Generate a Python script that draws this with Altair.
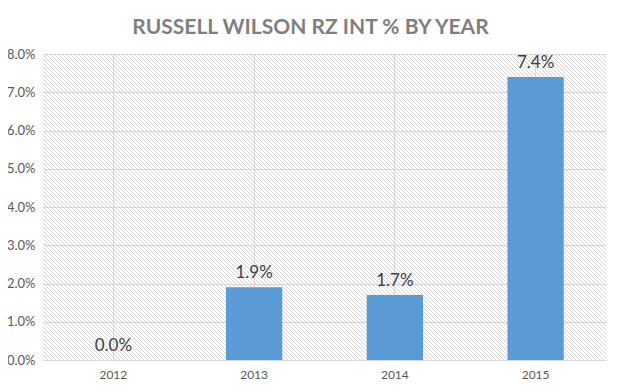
import altair as alt
import pandas as pd

years = ["2012", "2013", "2014", "2015"]
int_pct = [0.000, 0.019, 0.017, 0.074]
y_ticks = [0.0, 0.01, 0.02, 0.03, 0.04, 0.05, 0.06, 0.07, 0.08]
title_text = "RUSSELL WILSON RZ INT % BY YEAR"

df = pd.DataFrame({"year": years, "pct": int_pct})

W, H = 563, 306
# diagonal hatch pattern for the plot background (style only)
L = W + H
period = 4.0
stops = []
k = 0
while (k + 1) * period < L:
    s = k * period
    stops += [
        {"offset": s / L, "color": "rgba(255,255,255,0)"},
        {"offset": (s + 1.0) / L, "color": "rgba(200,200,200,0.75)"},
        {"offset": (s + 2.0) / L, "color": "rgba(255,255,255,0)"},
    ]
    k += 1
den = W * W + H * H
hatch_fill = {
    "gradient": "linear",
    "x1": 0, "y1": 1,
    "x2": W * L / den, "y2": 1 - H * L / den,
    "stops": stops,
}

hatch = alt.Chart(pd.DataFrame({"k": [0]})).mark_rect(fill=hatch_fill).encode(
    x=alt.value(0), x2=alt.value("width"), y=alt.value(0), y2=alt.value("height")
)

base = alt.Chart(df)
x_enc = alt.X(
    "year:N",
    title=None,
    scale=alt.Scale(paddingInner=0.6, paddingOuter=0.3),
    axis=alt.Axis(labelAngle=0, ticks=False, domain=True, domainColor="#d9d9d9",
                  grid=True, labelPadding=9, labelFontSize=12,
                  labelColor="#595959", labelFont="Lato"),
)
y_enc = alt.Y(
    "pct:Q",
    title=None,
    scale=alt.Scale(domain=[0, 0.08]),
    axis=alt.Axis(values=y_ticks, format=".1%", ticks=False, domain=False,
                  grid=True, labelPadding=8, labelFontSize=13,
                  labelColor="#595959", labelFont="Lato"),
)

bars = base.mark_bar(color="#5b9bd5").encode(x=x_enc, y=y_enc)
labels = base.mark_text(baseline="bottom", dy=-5, fontSize=17, color="#404040",
                        font="Lato").encode(
    x=x_enc, y=y_enc, text=alt.Text("pct:Q", format=".1%")
)

chart = alt.layer(hatch, bars, labels).properties(
    width=W, height=H,
    autosize=alt.AutoSizeParams(type="none"),
    padding={"left": 35, "top": 46, "right": 7, "bottom": 24},
    title=alt.TitleParams(title_text, fontSize=21, font="Lato", fontWeight="bold",
                          color="#7f7f7f", dx=-14, offset=10),
).configure_view(stroke=None).configure_axis(gridColor="#d9d9d9", gridWidth=1)

chart.save("out.html", embed_options={"renderer": "svg", "actions": False})
